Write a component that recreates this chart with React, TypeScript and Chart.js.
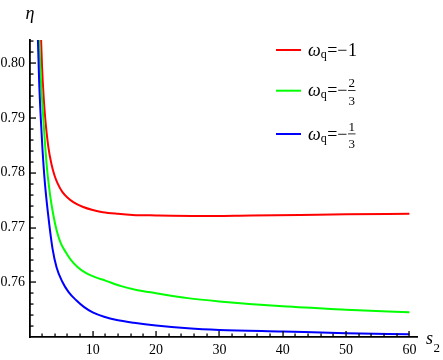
import React, { useEffect, useRef } from 'react';
import { Chart, registerables } from 'chart.js';

Chart.register(...registerables);

// ---- data ----
const redS = [1.75, 1.85, 2.0, 2.25, 2.5, 3.0, 3.5, 4.0, 4.44, 5.2, 6.0, 7.0, 8.4, 10, 11.6, 14, 16.3, 20, 27, 35, 42.7, 50, 60];
const redEta = [0.808, 0.8043, 0.7994, 0.7939, 0.79, 0.7847, 0.7815, 0.7794, 0.7781, 0.7765, 0.7755, 0.7746, 0.7738, 0.7732, 0.7728, 0.7725, 0.7723, 0.7722, 0.7721, 0.7722, 0.7723, 0.7724, 0.7725];

const greenS = [1.45, 1.55, 1.8, 2.2, 2.5, 2.85, 3.3, 3.8, 4.3, 4.97, 5.8, 6.55, 7.6, 8.9, 10.5, 12, 14.5, 16.9, 20, 25, 30, 40, 50, 60];
const greenEta = [0.808, 0.8043, 0.7975, 0.79, 0.7848, 0.78, 0.7757, 0.7722, 0.7695, 0.7671, 0.7654, 0.7641, 0.7628, 0.7617, 0.7609, 0.7603, 0.7593, 0.7586, 0.758, 0.7571, 0.7565, 0.7556, 0.755, 0.7545];

const blueS = [1.25, 1.35, 1.55, 1.8, 2.07, 2.44, 2.96, 3.65, 4.3, 5.2, 6.2, 7.4, 8.6, 10, 11.8, 13.8, 16.5, 20, 25, 30, 40, 50, 60];
const blueEta = [0.808, 0.8043, 0.7965, 0.79, 0.7843, 0.7783, 0.7724, 0.7662, 0.7627, 0.7601, 0.7582, 0.7567, 0.7555, 0.7545, 0.7537, 0.7531, 0.7526, 0.7521, 0.7516, 0.7513, 0.751, 0.7507, 0.7505];

const seriesColors = ['#ff0000', '#00ff00', '#0000ff'];
const seriesLabels = ['ωq=−1', 'ωq=−2/3', 'ωq=−1/3'];
const legendSymbol = 'ω';
const legendSub = 'q';
const legendValues = ['1', '2/3', '1/3'];

const xMajorTicks = [10, 20, 30, 40, 50, 60];
const xMinorStep = 2;
const yMajorTicks = [0.76, 0.77, 0.78, 0.79, 0.8];
const yMinorStep = 0.002;
const xMin = 0.1;
const xMax = 61.2;
const yMin = 0.75;
const yMax = 0.80425;
const yTitle = 'η';
const xTitle = 's';
const xTitleSub = '2';

const SERIF = '"Liberation Serif", "Times New Roman", serif';

function toPoints(xs: number[], ys: number[]) {
  return xs.map((x, i) => ({ x, y: ys[i] }));
}

function drawTicks(chart: any) {
  const ctx: CanvasRenderingContext2D = chart.ctx;
  const area = chart.chartArea;
  const xs = chart.scales['x'];
  const ys = chart.scales['y'];
  ctx.save();
  ctx.globalAlpha = 1;
  ctx.globalCompositeOperation = 'source-over';
  ctx.fillStyle = '#000000';
  const bottom = area.bottom;
  const left = area.left;
  for (let i = 1; i * xMinorStep <= xMax + 1e-9; i++) {
    const v = i * xMinorStep;
    const major = xMajorTicks.some((t) => Math.abs(t - v) < 1e-6);
    const len = major ? 6 : 3.5;
    const px = xs.getPixelForValue(v);
    ctx.fillRect(Math.round(px) - 0.6, bottom - len, 1.3, len);
  }
  for (let i = 1; yMin + i * yMinorStep <= yMax + 1e-9; i++) {
    const v = yMin + i * yMinorStep;
    const major = yMajorTicks.some((t) => Math.abs(t - v) < 1e-6);
    const len = major ? 6 : 3.5;
    const py = ys.getPixelForValue(v);
    ctx.fillRect(left, Math.round(py) - 0.6, len, 1.3);
  }
  ctx.restore();
}

const decorPlugin = {
  id: 'decor',
  afterDraw(chart: any) {
    drawTicks(chart);
    const { ctx, chartArea } = chart;
    ctx.save();
    ctx.fillStyle = '#000';
    ctx.textBaseline = 'alphabetic';
    // axis titles
    ctx.font = `italic 18px ${SERIF}`;
    ctx.textAlign = 'center';
    ctx.fillText(yTitle, chartArea.left, 19);
    ctx.textAlign = 'left';
    const sx = 426;
    ctx.fillText(xTitle, sx, 344);
    const sw = ctx.measureText(xTitle).width;
    ctx.font = `13px ${SERIF}`;
    ctx.fillText(xTitleSub, sx + sw + 0.5, 351.5);

    // legend
    const rows = [50, 90.7, 134];
    chart.data.datasets.forEach((ds: any, i: number) => {
      const ry = rows[i];
      ctx.strokeStyle = ds.borderColor;
      ctx.lineWidth = 2;
      ctx.beginPath();
      ctx.moveTo(276, ry);
      ctx.lineTo(301, ry);
      ctx.stroke();

      const base = ry + 5.5;
      let x = 308;
      ctx.fillStyle = '#000';
      ctx.textAlign = 'left';
      ctx.font = `italic 18px ${SERIF}`;
      ctx.fillText(legendSymbol, x, base);
      x += ctx.measureText(legendSymbol).width;
      ctx.font = `12px ${SERIF}`;
      ctx.fillText(legendSub, x, base + 2);
      x += ctx.measureText(legendSub).width + 0.5;
      ctx.font = `18px ${SERIF}`;
      ctx.fillText('=', x, base);
      x += ctx.measureText('=').width;
      ctx.fillText('−', x, base);
      x += ctx.measureText('−').width + 0.5;
      const val = legendValues[i];
      if (val.includes('/')) {
        const [num, den] = val.split('/');
        ctx.font = `13px ${SERIF}`;
        const w = Math.max(ctx.measureText(num).width, ctx.measureText(den).width) + 1;
        const cx = x + w / 2;
        ctx.textAlign = 'center';
        ctx.fillText(num, cx, ry - 3.5);
        ctx.fillText(den, cx, ry + 14.3);
        ctx.fillRect(x, ry - 0.5, w, 0.8);
      } else {
        ctx.fillText(val, x, base);
      }
    });
    ctx.restore();
  },
};

export default function App() {
  const canvasRef = useRef<HTMLCanvasElement | null>(null);

  useEffect(() => {
    const canvas = canvasRef.current;
    if (!canvas) return;
    const seriesS = [redS, greenS, blueS];
    const seriesEta = [redEta, greenEta, blueEta];
    const chart = new Chart(canvas, {
      type: 'line',
      data: {
        datasets: seriesS.map((xs, i) => ({
          label: seriesLabels[i],
          data: toPoints(xs, seriesEta[i]),
          borderColor: seriesColors[i],
          backgroundColor: seriesColors[i],
          borderWidth: 2,
          pointRadius: 0,
          fill: false,
          cubicInterpolationMode: 'monotone' as const,
          clip: 0,
          order: 2 - i,
        })),
      },
      options: {
        animation: false,
        responsive: false,
        maintainAspectRatio: false,
        devicePixelRatio: 1,
        layout: { padding: { top: 40, right: 26, left: 0, bottom: 0 } },
        plugins: {
          legend: { display: false },
          title: { display: false },
          tooltip: { enabled: false },
        },
        scales: {
          x: {
            type: 'linear',
            min: xMin,
            max: xMax,
            grid: { display: false, drawTicks: false },
            border: { display: true, color: '#000', width: 1.8 },
            ticks: {
              color: '#000',
              font: { family: SERIF, size: 14 },
              padding: 5,
              maxRotation: 0,
              autoSkip: false,
            },
            afterBuildTicks: (scale: any) => {
              scale.ticks = xMajorTicks.map((v) => ({ value: v }));
            },
            afterFit: (scale: any) => {
              scale.height = 23;
            },
          },
          y: {
            type: 'linear',
            min: yMin,
            max: yMax,
            grid: { display: false, drawTicks: false },
            border: { display: true, color: '#000', width: 1.8 },
            ticks: {
              color: '#000',
              font: { family: SERIF, size: 14 },
              padding: 5,
              autoSkip: false,
              callback: (v: any) => Number(v).toFixed(2),
            },
            afterBuildTicks: (scale: any) => {
              scale.ticks = yMajorTicks.map((v) => ({ value: v }));
            },
            afterFit: (scale: any) => {
              scale.width = 30;
            },
          },
        },
      },
      plugins: [decorPlugin],
    });
    return () => chart.destroy();
  }, []);

  return (
    <div style={{ position: 'fixed', left: 0, top: 0, width: 443, height: 360, background: '#fff' }}>
      <canvas ref={canvasRef} width={443} height={360} style={{ width: 443, height: 360, display: 'block' }} />
    </div>
  );
}
